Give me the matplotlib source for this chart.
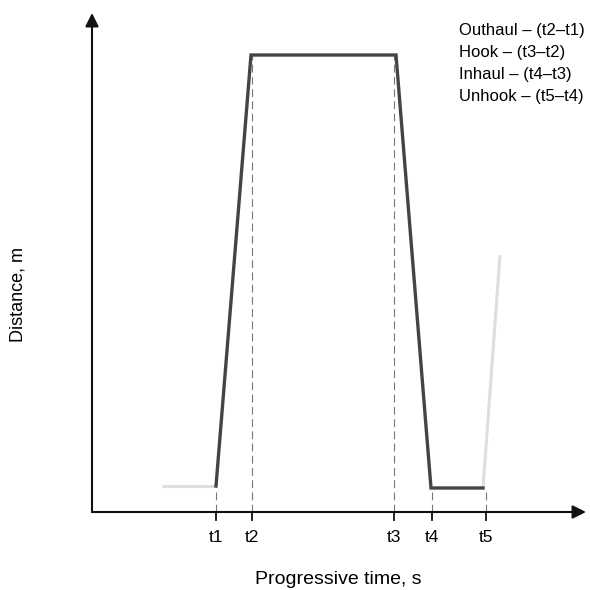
import matplotlib
matplotlib.use("Agg")
import matplotlib.pyplot as plt

plt.rcParams['font.family'] = ['Liberation Sans', 'DejaVu Sans']

# time marks (arbitrary units, origin at axis corner)
tick_labels = ['t1', 't2', 't3', 't4', 't5']
tick_pos = [124, 160, 302, 340, 394]

# operating cycle (dark) and neighbouring cycles (light)
cycle_t = [124, 159, 304, 339, 391]
cycle_d = [26, 457, 457, 24, 24]
prev_t = [70, 124]
prev_d = [26, 26]
next_t = [391, 408]
next_d = [24, 257]
# height of the dashed guide at each tick
guide_d = [26, 457, 457, 24, 24]

legend_lines = ['Outhaul \u2013 (t2\u2013t1)', 'Hook \u2013 (t3\u2013t2)',
                'Inhaul \u2013 (t4\u2013t3)', 'Unhook \u2013 (t5\u2013t4)']

dark = '#444444'
light = '#dedede'

fig = plt.figure(figsize=(5.9, 5.9), dpi=100)
ax = fig.add_axes([0, 0, 1, 1])
ax.set_xlim(-92, 498)
ax.set_ylim(-78, 512)
ax.axis('off')

# axes with arrow heads
ax.annotate('', xy=(494, 0), xytext=(0, 0),
            arrowprops=dict(arrowstyle='-|>', color='#111111', lw=1.5,
                            mutation_scale=20, shrinkA=0, shrinkB=0))
ax.annotate('', xy=(0, 499), xytext=(0, 0),
            arrowprops=dict(arrowstyle='-|>', color='#111111', lw=1.5,
                            mutation_scale=20, shrinkA=0, shrinkB=0))

# guides, ticks and labels
for x, h, lab in zip(tick_pos, guide_d, tick_labels):
    ax.plot([x, x], [0, h], color='#777777', lw=0.8, ls=(0, (7, 4)))
    ax.plot([x, x], [0, -8], color='#111111', lw=1.3)
    ax.text(x, -18, lab, ha='center', va='top', fontsize=12.5)

ax.plot(prev_t, prev_d, color=light, lw=2.2, solid_capstyle='butt')
ax.plot(next_t, next_d, color=light, lw=2.2, solid_capstyle='butt')
ax.plot(cycle_t, cycle_d, color=dark, lw=2.4, solid_joinstyle='miter')

for i, s in enumerate(legend_lines):
    ax.text(367, 481 - i * 22, s, ha='left', va='center', fontsize=12)

ax.text(246, -68, 'Progressive time, s', ha='center', va='center', fontsize=14)
ax.text(-74, 217, 'Distance, m', ha='center', va='center', rotation=90, fontsize=13)

fig.savefig('out.png', dpi=100)
